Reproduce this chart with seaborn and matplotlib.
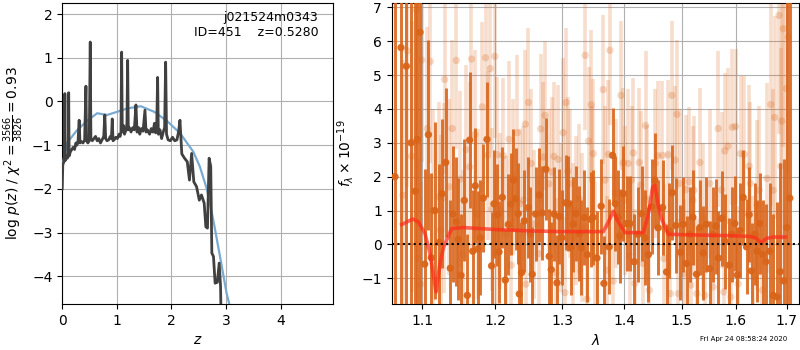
import numpy as np
import pandas as pd
import matplotlib
matplotlib.use("Agg")
import matplotlib.pyplot as plt
import seaborn as sns
from matplotlib.ticker import FixedLocator, FixedFormatter, NullLocator

plt.rcParams["font.family"] = ["DejaVu Sans"]

# ---- left panel: redshift probability ----
z_grid = [0.000, 0.010, 0.025, 0.040, 0.048, 0.056, 0.075, 0.095, 0.110, 0.118,
          0.126, 0.150, 0.175, 0.200, 0.225, 0.250, 0.270, 0.290, 0.310, 0.325,
          0.350, 0.380, 0.410, 0.434, 0.445, 0.470, 0.495, 0.513, 0.525, 0.550,
          0.580, 0.610, 0.640, 0.670, 0.700, 0.730, 0.760, 0.780, 0.795, 0.820,
          0.850, 0.880, 0.900, 0.916, 0.930, 0.950, 0.980, 1.010, 1.040, 1.060,
          1.075, 1.088, 1.100, 1.120, 1.140, 1.170, 1.185, 1.198, 1.210, 1.230,
          1.260, 1.290, 1.320, 1.350, 1.370, 1.400, 1.420, 1.450, 1.480, 1.515,
          1.535, 1.560, 1.600, 1.630, 1.660, 1.690, 1.710, 1.730, 1.747, 1.760,
          1.790, 1.820, 1.850, 1.875, 1.894, 1.910, 1.940, 1.980, 2.020, 2.060,
          2.100, 2.130, 2.156, 2.190, 2.240, 2.290, 2.330, 2.370, 2.410, 2.460,
          2.510, 2.550, 2.600, 2.630, 2.660, 2.690, 2.720, 2.740, 2.770, 2.800,
          2.840, 2.875, 2.900, 2.910]
log_pz = [-2.00, -1.45, -1.40, -1.35, 0.18, -1.35, -1.25, -1.30, -1.20, 0.20,
          -1.25, -1.15, -1.10, -1.05, -1.10, -0.95, -1.00, -0.90, -0.43, -0.95,
          -0.92, -0.95, -0.88, 0.35, -0.90, -0.95, -0.90, 1.36, -0.85, -0.90,
          -0.85, -0.80, -0.90, -0.85, -0.95, -0.88, -0.80, -0.31, -0.85, -0.90,
          -0.88, -0.80, -0.85, -0.40, -0.90, -0.88, -0.82, -0.85, -0.75, -0.80,
          -0.70, 1.13, -0.70, -0.55, -0.75, -0.65, -0.50, 0.94, -0.65, -0.60,
          -0.70, -0.60, -0.65, -0.08, -0.70, -0.60, -0.75, -0.62, -0.68, -0.20,
          -0.70, -0.65, -0.75, -0.62, -0.70, -0.50, -0.72, -0.60, 0.55, -0.75,
          -0.65, -0.85, -0.70, -0.60, 0.90, -0.75, -0.88, -0.90, -0.82, -0.90,
          -0.88, -0.70, -0.43, -1.20, -1.30, -1.38, -1.80, -1.19, -1.84, -1.95,
          -2.26, -2.14, -2.33, -2.87, -2.90, -1.30, -1.49, -3.47, -3.55, -4.16,
          -4.14, -3.70, -4.24, -5.00]

z_prior = [0.00, 0.08, 0.27, 0.45, 0.64, 0.82, 1.00, 1.19, 1.44, 1.69, 1.93,
           2.16, 2.40, 2.52, 2.645, 2.766, 2.89, 3.01, 3.06, 3.20]
log_prior = [-1.50, -0.96, -0.66, -0.45, -0.27, -0.31, -0.24, -0.16, -0.11, -0.24,
             -0.46, -0.73, -1.15, -1.49, -1.99, -2.71, -3.55, -4.39, -4.64, -5.50]

# ---- right panel: spectrum ----
wave_a = [1.0647, 1.0724, 1.0792, 1.0853, 1.0908, 1.0934, 1.0970, 1.1032, 1.1080, 1.1119,
          1.1168, 1.1226, 1.1262, 1.1312, 1.1374, 1.1411, 1.1456, 1.1484, 1.1521, 1.1566,
          1.1608, 1.1641, 1.1683, 1.1719, 1.1752, 1.1789, 1.1831, 1.1884, 1.1950, 1.1983,
          1.2031, 1.2056, 1.2103, 1.2147, 1.2191, 1.2225, 1.2263, 1.2296, 1.2337, 1.2352,
          1.2384, 1.2426, 1.2485, 1.2517, 1.2544, 1.2595, 1.2649, 1.2695, 1.2751, 1.2801,
          1.2832, 1.2874, 1.2920, 1.2955, 1.2997, 1.3060, 1.3099, 1.3138, 1.3177, 1.3217,
          1.3268, 1.3303, 1.3351, 1.3396, 1.3455, 1.3487, 1.3552, 1.3621, 1.3665, 1.3751,
          1.3807, 1.3853, 1.3900, 1.3929, 1.3987, 1.4040, 1.4096, 1.4169, 1.4232, 1.4295,
          1.4351, 1.4411, 1.4466, 1.4523, 1.4581, 1.4657, 1.4728, 1.4777, 1.4827, 1.4892,
          1.4975, 1.5025, 1.5083, 1.5143, 1.5198, 1.5265, 1.5325, 1.5386, 1.5445, 1.5509,
          1.5565, 1.5621, 1.5667, 1.5727, 1.5789, 1.5871, 1.5922, 1.5979, 1.6027, 1.6075,
          1.6139, 1.6204, 1.6255, 1.6302, 1.6366, 1.6415, 1.6463, 1.6523, 1.6582, 1.6661,
          1.6727, 1.6807, 1.6871, 1.6942, 1.7002, 1.7063]
flux_a = [2.00, 5.81, 5.26, 3.00, 1.57, 3.10, 6.26, -0.58, 3.24, -0.39,
          1.00, 0.06, 1.50, 2.42, -0.70, 0.90, 0.67, 0.15, -0.91, 1.30,
          -1.50, 3.08, -0.20, 1.73, -0.13, 0.20, 1.37, 3.10, -0.63, 1.20,
          0.88, -0.22, 1.39, -1.05, 0.59, 1.19, 1.90, 1.35, 0.91, -1.46,
          -0.83, 0.70, 1.09, 0.30, -0.88, 0.90, 1.46, 0.93, 2.22, -0.35,
          -0.74, 0.90, -1.13, 0.83, 0.20, 1.23, 1.20, -0.09, 0.60, 0.91,
          0.32, -0.10, 0.80, -0.30, 0.74, 0.80, -0.40, 1.13, -1.15, -0.07,
          2.63, 1.20, 0.81, 0.25, 1.50, 0.62, 0.62, -0.51, 0.30, 0.91,
          0.20, -0.30, 1.11, 1.90, 0.49, 1.09, -0.81, 0.40, 1.53, 0.56,
          -0.23, 0.60, -0.56, 0.30, 0.80, -0.88, 0.50, -0.25, 0.60, -0.71,
          0.30, 0.54, -0.40, 0.77, 0.10, -0.61, 0.30, 0.62, -0.90, 0.41,
          1.39, -0.07, 0.88, -0.78, 0.30, -0.20, 0.62, -0.30, -0.51, -0.20,
          -1.50, -1.55, -0.80, -1.07, 0.50, 1.37]
err_a = [9.0, 9.0, 9.0, 9.0, 9.0, 5.0, 9.0, 2.8, 2.8, 2.5,
         2.6, 2.3, 2.2, 2.2, 2.0, 2.0, 1.9, 1.8, 1.8, 1.8,
         1.8, 2.0, 1.8, 1.7, 1.7, 1.7, 1.6, 1.7, 1.6, 1.6,
         1.5, 1.5, 1.5, 1.5, 1.5, 1.5, 1.5, 1.5, 1.5, 1.5,
         1.5, 1.5, 1.5, 1.4, 1.4, 1.4, 1.4, 1.4, 1.5, 1.4,
         1.4, 1.4, 1.4, 1.4, 1.4, 1.4, 1.4, 1.4, 1.4, 1.4,
         1.4, 1.4, 1.4, 1.4, 1.4, 1.4, 1.4, 1.4, 1.4, 1.4,
         1.4, 1.4, 1.4, 1.4, 1.4, 1.4, 1.4, 1.4, 1.4, 1.4,
         1.4, 1.4, 1.4, 1.4, 1.4, 1.4, 1.4, 1.4, 1.4, 1.4,
         1.4, 1.4, 1.4, 1.4, 1.4, 1.4, 1.4, 1.4, 1.4, 1.4,
         1.4, 1.4, 1.4, 1.4, 1.4, 1.4, 1.4, 1.4, 1.4, 1.4,
         1.4, 1.4, 1.4, 1.4, 1.5, 1.5, 1.5, 1.6, 1.7, 2.0,
         2.4, 2.8, 3.2, 3.6, 9.0, 9.0]

wave_b = [1.0750, 1.0806, 1.0861, 1.0926, 1.0948, 1.0979, 1.0992, 1.1066, 1.1106, 1.1141,
          1.1222, 1.1244, 1.1288, 1.1297, 1.1361, 1.1401, 1.1456, 1.1507, 1.1548, 1.1590,
          1.1641, 1.1666, 1.1715, 1.1756, 1.1816, 1.1864, 1.1894, 1.1930, 1.1955, 1.1997,
          1.2014, 1.2031, 1.2077, 1.2118, 1.2157, 1.2201, 1.2234, 1.2259, 1.2322, 1.2362,
          1.2411, 1.2441, 1.2451, 1.2488, 1.2529, 1.2577, 1.2640, 1.2672, 1.2710, 1.2736,
          1.2796, 1.2843, 1.2874, 1.2904, 1.2940, 1.2982, 1.3017, 1.3044, 1.3060, 1.3091,
          1.3122, 1.3169, 1.3217, 1.3268, 1.3319, 1.3363, 1.3391, 1.3418, 1.3460, 1.3479,
          1.3492, 1.3527, 1.3654, 1.3682, 1.3715, 1.3739, 1.3764, 1.3819, 1.3863, 1.3946,
          1.3984, 1.4013, 1.4068, 1.4096, 1.4124, 1.4155, 1.4181, 1.4254, 1.4283, 1.4317,
          1.4362, 1.4394, 1.4428, 1.4528, 1.4570, 1.4656, 1.4680, 1.4756, 1.4795, 1.4821,
          1.4880, 1.4910, 1.4936, 1.4963, 1.5035, 1.5071, 1.5130, 1.5161, 1.5197, 1.5216,
          1.5270, 1.5325, 1.5380, 1.5417, 1.5509, 1.5571, 1.5664, 1.5727, 1.5770, 1.5789,
          1.5846, 1.5903, 1.5932, 1.5993, 1.6046, 1.6088, 1.6161, 1.6255, 1.6278, 1.6332,
          1.6409, 1.6453, 1.6516, 1.6607, 1.6681, 1.6727, 1.6759, 1.6846, 1.6881, 1.6901,
          1.6932, 1.6995, 1.7031]
flux_b = [1.45, 5.71, 2.60, 6.91, -0.41, -1.17, 5.44, 3.42, 5.40, 1.00,
          1.40, 0.43, 1.38, 4.87, 1.70, 3.42, 5.43, 1.93, -0.30, 2.80,
          2.29, 5.47, 3.24, 0.90, 4.06, 5.51, 2.63, 5.19, 1.04, 5.55,
          -0.25, 2.65, 1.00, 2.62, 0.30, 3.10, -0.61, 1.99, 3.30, 1.20,
          1.31, 3.55, -1.17, 4.19, 2.39, 0.60, -0.27, 3.41, 2.58, 3.81,
          1.79, 2.14, 2.60, -0.84, 2.51, 0.80, 3.30, -1.42, 4.19, 2.16,
          1.80, 0.20, 1.00, 1.34, 0.50, 5.58, -1.61, 3.05, 4.12, 1.90,
          2.68, -0.37, 4.57, 1.90, -0.76, 2.66, 5.73, -1.08, 1.50, 4.40,
          2.41, 1.31, 2.39, -0.35, 1.90, 2.70, -1.15, 2.42, 1.75, -0.56,
          3.51, 1.33, -1.35, 2.39, 2.62, 2.63, -0.41, 2.65, -1.45, 4.40,
          2.49, 3.84, -1.45, 1.80, -0.86, 1.62, 1.85, -1.20, 1.31, 1.60,
          -1.45, 2.42, 0.80, -1.50, 1.80, -1.25, 3.42, 1.61, -1.40, 2.76,
          2.90, -1.55, 3.46, 3.48, -1.16, 2.68, 2.66, 2.31, 1.80, -0.96,
          1.17, 1.60, -1.35, 1.95, 4.13, 1.60, 3.75, 6.76, 2.31, 3.64,
          6.37, 4.60, 6.12]
err_b = [4.0, 4.0, 4.0, 4.0, 3.0, 3.0, 3.0, 3.0, 3.0, 3.0,
         2.8, 2.8, 2.8, 2.8, 2.6, 2.6, 2.6, 2.6, 2.5, 2.5,
         2.5, 2.5, 2.5, 2.5, 2.5, 2.5, 2.5, 2.5, 2.4, 2.4,
         2.4, 2.3, 2.3, 2.3, 2.3, 2.3, 2.3, 2.3, 2.3, 2.2,
         2.2, 2.2, 2.2, 2.2, 2.2, 2.2, 2.2, 2.2, 2.2, 2.2,
         2.2, 2.2, 2.2, 2.2, 2.2, 2.2, 2.2, 2.2, 2.2, 2.2,
         2.2, 2.2, 2.2, 2.2, 2.2, 2.2, 2.2, 2.2, 2.2, 2.2,
         2.2, 2.2, 2.2, 2.2, 2.2, 2.2, 2.2, 2.2, 2.2, 2.2,
         2.2, 2.2, 2.2, 2.2, 2.2, 2.2, 2.2, 2.2, 2.2, 2.2,
         2.2, 2.2, 2.2, 2.2, 2.2, 2.2, 2.2, 2.2, 2.2, 2.2,
         2.2, 2.2, 2.2, 2.2, 2.2, 2.2, 2.2, 2.2, 2.2, 2.2,
         2.2, 2.2, 2.2, 2.2, 2.2, 2.2, 2.3, 2.3, 2.3, 2.3,
         2.3, 2.3, 2.3, 2.3, 2.3, 2.3, 2.3, 2.4, 2.4, 2.4,
         2.5, 2.5, 2.6, 2.8, 3.0, 3.0, 3.0, 3.5, 3.5, 3.5,
         3.5, 4.0, 4.0]

wave_model = [1.0733, 1.0875, 1.0948, 1.1036, 1.1102, 1.1182, 1.1235, 1.1279, 1.1333, 1.1393,
              1.1552, 1.2022, 1.2510, 1.3018, 1.3655, 1.3737, 1.3820, 1.3885, 1.4014, 1.4323,
              1.4409, 1.4485, 1.4525, 1.4582, 1.4642, 1.4758, 1.5266, 1.5884, 1.6268, 1.6399,
              1.6483, 1.6596, 1.6727, 1.6978]
flux_model = [0.59, 0.75, 0.67, 0.32, -0.27, -1.40, -0.56, -0.12, 0.18, 0.47,
              0.50, 0.44, 0.40, 0.38, 0.38, 0.66, 0.98, 0.72, 0.35, 0.35,
              0.88, 1.70, 1.75, 1.14, 0.75, 0.30, 0.28, 0.26, 0.24, 0.18,
              0.05, 0.18, 0.22, 0.22]

obj_name = "j021524m0343"
obj_id = 451
z_best = 0.5280
chi2_num, chi2_den = 3566, 3826
stamp = "Fri Apr 24 08:58:24 2020"

pz = pd.DataFrame({"z": z_grid, "logp": log_pz})
prior = pd.DataFrame({"z": z_prior, "logp": log_prior})
spec_a = pd.DataFrame({"wave": wave_a, "flux": flux_a, "err": err_a})
spec_b = pd.DataFrame({"wave": wave_b, "flux": flux_b, "err": err_b})
model = pd.DataFrame({"wave": wave_model, "flux": flux_model})

orange = "#d9651a"

fig = plt.figure(figsize=(8, 3.5), dpi=100)
ax1 = fig.add_axes([0.0778, 0.131, 0.3385, 0.860])
ax2 = fig.add_axes([0.4896, 0.131, 0.5096, 0.860])

# left: p(z)
sns.lineplot(data=prior, x="z", y="logp", ax=ax1, color="#7aaad0", lw=1.6,
             sort=False, estimator=None, zorder=3)
sns.lineplot(data=pz, x="z", y="logp", ax=ax1, color="0.25", lw=2,
             sort=False, estimator=None, zorder=4)
ax1.set_xlim(0, 4.96)
ax1.set_ylim(-4.64, 2.25)
ax1.set_xticks([0, 1, 2, 3, 4])
ax1.set_yticks([-4, -3, -2, -1, 0, 1, 2])
ax1.grid(True, color="#b0b0b0", lw=0.8)
ax1.set_axisbelow(True)
ax1.set_xlabel("$z$")
ax1.set_ylabel(r"log $p(z)$ / $\chi^2=\frac{%d}{%d}=%.2f$"
               % (chi2_num, chi2_den, chi2_num / chi2_den))
ax1.text(0.945, 0.975, "%s\nID=%d    z=%.4f" % (obj_name, obj_id, z_best),
         transform=ax1.transAxes, ha="right", va="top", fontsize=9)

# right: spectrum
ax2.errorbar(spec_b["wave"], spec_b["flux"], yerr=spec_b["err"], fmt="none",
             ecolor=orange, elinewidth=2.6, alpha=0.22, zorder=2)
sns.scatterplot(data=spec_b, x="wave", y="flux", ax=ax2, color=orange, s=28,
                alpha=0.25, edgecolor="none", zorder=2)
ax2.errorbar(spec_a["wave"], spec_a["flux"], yerr=spec_a["err"], fmt="none",
             ecolor=orange, elinewidth=2.1, alpha=0.9, zorder=3)
sns.scatterplot(data=spec_a, x="wave", y="flux", ax=ax2, color=orange, s=28,
                alpha=0.95, edgecolor="none", zorder=3)
sns.lineplot(data=model, x="wave", y="flux", ax=ax2, color="#ff2a1a", lw=2.6,
             alpha=0.7, sort=False, estimator=None, zorder=5)
ax2.axhline(0, color="k", ls=(0, (1, 1.6)), lw=1.5, zorder=6)

ax2.set_xscale("log")
ax2.set_xlim(1.0605, 1.726)
ax2.set_ylim(-1.76, 7.12)
xt = [1.1, 1.2, 1.3, 1.4, 1.5, 1.6, 1.7]
ax2.xaxis.set_major_locator(FixedLocator(xt))
ax2.xaxis.set_major_formatter(FixedFormatter(["%.1f" % v for v in xt]))
ax2.xaxis.set_minor_locator(NullLocator())
ax2.set_yticks([-1, 0, 1, 2, 3, 4, 5, 6, 7])
ax2.grid(True, color="#b0b0b0", lw=0.8)
ax2.set_axisbelow(True)
ax2.set_xlabel(r"$\lambda$")
ax2.set_ylabel(r"$f_\lambda\times10^{-19}$")

fig.text(0.984, 0.022, stamp, ha="right", va="bottom", fontsize=5)

fig.savefig("out.png", dpi=100)
